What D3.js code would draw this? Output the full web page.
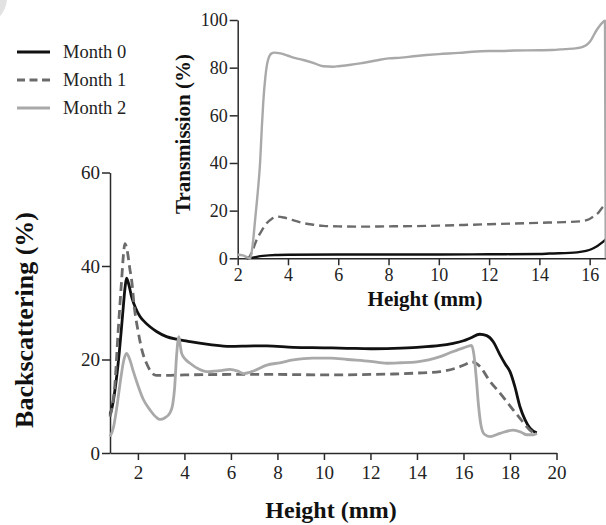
<!DOCTYPE html>
<html>
<head>
<meta charset="utf-8">
<script src="https://cdn.jsdelivr.net/npm/d3@7"></script>
<style>
  body { margin: 0; background: #fff; }
  svg { display: block; }
  .axis path, .axis line { stroke: #2a2a2a; stroke-width: 1.5; }
</style>
</head>
<body>
<svg id="chart" width="606" height="525"></svg>
<script>
let serif = "'Liberation Serif', 'Times New Roman', serif";

// series names
let months = ["Month 0", "Month 1", "Month 2"];

// backscattering, main panel: [height mm, %]
let bs0 = [[0.8,8.2],[0.9,10],[1.0,13],[1.2,21.5],[1.35,30],[1.45,35.5],[1.51,37.4],[1.6,36.2],[1.73,33.4],[1.9,31],[2.09,29.2],[2.3,28],[2.52,27],[2.8,26],[3.23,24.9],[3.7,24.3],[4.24,23.8],[5.1,23.2],[5.96,22.8],[7,22.9],[7.54,22.9],[8.68,22.6],[10,22.5],[11,22.4],[12,22.3],[13,22.4],[14,22.6],[15,23],[15.5,23.4],[16.0,24],[16.3,24.6],[16.7,25.4],[17.0,25.1],[17.28,23.8],[17.57,21],[17.8,19],[18.0,17.4],[18.21,14.2],[18.43,9.9],[18.65,7.1],[18.86,5.3],[19.15,4.3]];
let bs1 = [[0.8,7.8],[0.9,10],[1.0,14],[1.15,26],[1.3,37],[1.38,42.5],[1.44,44.8],[1.55,43],[1.65,39.5],[1.73,37],[1.85,31],[2.0,26.3],[2.2,21.5],[2.37,19.2],[2.59,17.2],[2.8,16.6],[3.2,16.6],[4,16.7],[6,16.8],[8,16.8],[10,16.7],[12,16.8],[13,16.9],[14,17.1],[15,17.4],[15.7,18.2],[16.1,19],[16.35,19.5],[16.71,18.5],[17.1,15.6],[17.57,12.8],[18.0,10.1],[18.43,7.4],[18.86,4.9],[19.15,3.9]];
let bs2 = [[0.8,3.5],[0.95,5.5],[1.1,10],[1.25,15.5],[1.4,20],[1.51,21.3],[1.65,20],[1.8,17.5],[2.0,14.5],[2.23,11.5],[2.52,9.2],[2.8,7.6],[2.95,7.2],[3.15,7.5],[3.38,8.6],[3.5,10.5],[3.58,14],[3.66,20.6],[3.76,24.9],[3.82,23],[3.88,21.3],[4.05,20],[4.24,19.2],[4.6,18],[4.95,17.4],[5.5,17.6],[5.96,17.9],[6.3,17.5],[6.53,17],[7.0,17.6],[7.54,18.8],[8.1,19.3],[8.68,19.9],[9.5,20.3],[10.3,20.3],[11,20],[12,19.6],[12.7,19.2],[13.3,19.3],[14,19.5],[14.5,19.9],[15,20.6],[15.5,21.6],[16.0,22.5],[16.35,23],[16.45,21],[16.55,16],[16.65,10],[16.75,6],[16.9,4],[17.14,3.5],[17.57,4.2],[18.14,4.9],[18.5,4.4],[18.72,3.9],[19.0,3.9],[19.15,4.2]];

// transmission, inset panel: [height mm, %]
let tr0 = [[2.35,0],[2.6,0.3],[2.8,0.7],[3.0,1.0],[3.5,1.4],[4,1.5],[6,1.6],[8,1.6],[10,1.6],[12,1.7],[14,1.8],[14.4,2],[15.5,2.5],[16.15,4.2],[16.54,7],[16.65,8]];
let tr1 = [[2.3,0],[2.45,0.5],[2.6,3.5],[2.75,7.7],[2.95,11.5],[3.15,14.7],[3.35,16.5],[3.55,17.5],[3.83,17.1],[4.2,16],[4.6,14.8],[5.0,14.1],[5.4,13.6],[6,13.4],[7,13.3],[8,13.4],[9,13.5],[10,13.7],[11,14],[12,14.3],[13,14.6],[14,14.9],[15,15.2],[15.6,15.5],[16.0,16.5],[16.15,17.5],[16.35,19.2],[16.54,21.7],[16.65,22.5]];
let tr2 = [[2.0,1.5],[2.2,1.2],[2.35,0.6],[2.5,0],[2.6,6],[2.7,17],[2.8,28],[2.89,40],[2.96,55],[3.02,66],[3.1,76],[3.2,83],[3.35,86],[3.45,86.3],[3.7,86],[4.0,85],[4.3,84],[4.61,83.2],[5.0,82],[5.4,80.6],[5.8,80.4],[6.0,80.6],[6.5,81.2],[6.87,81.8],[7.5,83],[8.0,83.9],[8.5,84.2],[9.0,84.8],[9.5,85.3],[10.0,85.7],[10.8,86.2],[11.5,86.8],[12.0,87],[12.5,87],[13,87.2],[14,87.3],[14.5,87.4],[15.0,87.8],[15.5,88.2],[15.75,88.8],[16.01,90.9],[16.28,95.8],[16.48,98.6],[16.61,99.7],[16.64,0]];

// tick values
let mainXTicks = [2,4,6,8,10,12,14,16,18,20];
let mainYTicks = [0,20,40,60];
let insetXTicks = [2,4,6,8,10,12,14,16];
let insetYTicks = [0,20,40,60,80,100];

let colors = ["#111111", "#6b6b6b", "#a9a9a9"];
let dashes = [null, "9,5", null];

let svg = d3.select("#chart");

// faint corner mark from the source figure
svg.append("circle").attr("cx", -20).attr("cy", -2).attr("r", 27).attr("fill", "#e2e2e2");

function styleAxis(g, size) {
    g.attr("font-family", serif).attr("font-size", size);
    g.selectAll("text").attr("fill", "#222");
}

// ---- main panel ----
let x = d3.scaleLinear().domain([0.8, 20]).range([110, 556.5]);
let y = d3.scaleLinear().domain([0, 60]).range([453, 172.5]);

let line = d3.line().x(d => x(d[0])).y(d => y(d[1])).curve(d3.curveMonotoneX);

svg.append("g").attr("class", "axis")
    .attr("transform", "translate(0," + y(0) + ")")
    .call(d3.axisBottom(x).tickValues(mainXTicks).tickSize(7).tickSizeOuter(0).tickPadding(6))
    .call(styleAxis, 19);

svg.append("g").attr("class", "axis")
    .attr("transform", "translate(" + x(0.8) + ",0)")
    .call(d3.axisLeft(y).tickValues(mainYTicks).tickSize(8).tickSizeOuter(0).tickPadding(2))
    .call(styleAxis, 19);

[bs0, bs1, bs2].forEach((s, i) => {
    svg.append("path")
        .attr("d", line(s))
        .attr("fill", "none")
        .attr("stroke", colors[i])
        .attr("stroke-width", 2.8)
        .attr("stroke-dasharray", dashes[i])
        .attr("stroke-linejoin", "round");
});

svg.append("text")
    .attr("x", 331).attr("y", 518)
    .attr("text-anchor", "middle")
    .attr("font-family", serif)
    .attr("font-weight", "bold").attr("font-size", 24)
    .attr("fill", "#111")
    .text("Height (mm)");

svg.append("text")
    .attr("transform", "translate(33,320) rotate(-90)")
    .attr("text-anchor", "middle")
    .attr("font-family", serif)
    .attr("font-weight", "bold").attr("font-size", 26)
    .attr("fill", "#111")
    .text("Backscattering (%)");

// ---- inset panel ----
let ix = d3.scaleLinear().domain([2, 16.65]).range([237.7, 606]);
let iy = d3.scaleLinear().domain([0, 100]).range([258.3, 20]);

let iline = d3.line().x(d => ix(d[0])).y(d => iy(d[1])).curve(d3.curveMonotoneX);

svg.append("g").attr("class", "axis")
    .attr("transform", "translate(0," + iy(0) + ")")
    .call(d3.axisBottom(ix).tickValues(insetXTicks).tickSize(7).tickSizeOuter(0).tickPadding(3))
    .call(styleAxis, 18);

svg.append("g").attr("class", "axis")
    .attr("transform", "translate(" + ix(2) + ",0)")
    .call(d3.axisLeft(iy).tickValues(insetYTicks).tickSize(8).tickSizeOuter(0).tickPadding(2))
    .call(styleAxis, 18);

[tr0, tr1, tr2].forEach((s, i) => {
    svg.append("path")
        .attr("d", iline(s))
        .attr("fill", "none")
        .attr("stroke", colors[i])
        .attr("stroke-width", 2.4)
        .attr("stroke-dasharray", dashes[i])
        .attr("stroke-linejoin", "round");
});

svg.append("text")
    .attr("x", 425).attr("y", 306)
    .attr("text-anchor", "middle")
    .attr("font-family", serif)
    .attr("font-weight", "bold").attr("font-size", 21)
    .attr("fill", "#111")
    .text("Height (mm)");

svg.append("text")
    .attr("transform", "translate(190,134) rotate(-90)")
    .attr("text-anchor", "middle")
    .attr("font-family", serif)
    .attr("font-weight", "bold").attr("font-size", 21)
    .attr("fill", "#111")
    .text("Transmission (%)");

// ---- legend ----
let legend = svg.append("g").attr("font-family", serif);
months.forEach((m, i) => {
    let ly = 52 + i * 28;
    legend.append("line")
        .attr("x1", 17).attr("x2", 50).attr("y1", ly).attr("y2", ly)
        .attr("stroke", colors[i]).attr("stroke-width", 2.8)
        .attr("stroke-dasharray", i === 1 ? "8,4.5" : null);
    legend.append("text")
        .attr("x", 63).attr("y", ly + 6)
        .attr("font-size", 18.5).attr("fill", "#222")
        .text(m);
});
</script>
</body>
</html>
